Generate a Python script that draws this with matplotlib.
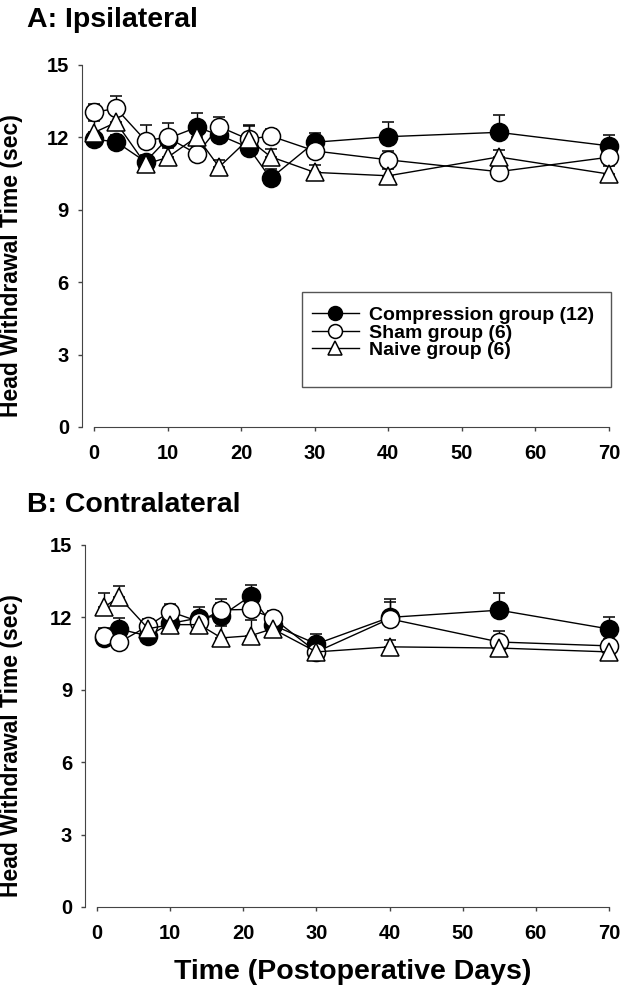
import numpy as np
import matplotlib
matplotlib.use("Agg")
import matplotlib.pyplot as plt
from matplotlib.patches import Rectangle
from matplotlib.lines import Line2D

plt.rcParams['font.family'] = ['Liberation Sans', 'DejaVu Sans']
plt.rcParams['font.weight'] = 'bold'
plt.rcParams['axes.labelweight'] = 'bold'

# days after surgery
days_a = [0, 3, 7, 10, 14, 17, 21, 24, 30, 40, 55, 70]
days_b = [1, 3, 7, 10, 14, 17, 21, 24, 30, 40, 55, 70]

# A: ipsilateral
comp_a = [11.92, 11.82, 10.99, 11.95, 12.42, 12.1, 11.58, 10.3, 11.8, 12.03, 12.21, 11.65]
comp_a_err = [0.3, 0.3, 0.3, 0.3, 0.6, 0.3, 0.3, 0.4, 0.4, 0.6, 0.7, 0.45]
sham_a = [13.04, 13.2, 11.87, 12.0, 11.31, 12.45, 11.92, 12.06, 11.44, 11.07, 10.58, 11.18]
sham_a_err = [0.35, 0.5, 0.65, 0.6, 0.3, 0.4, 0.6, 0.3, 0.3, 0.35, 0.2, 0.3]
naive_a = [12.2, 12.62, 10.89, 11.17, 12.03, 10.77, 11.93, 11.2, 10.55, 10.41, 11.19, 10.48]
naive_a_err = [0.5, 0.3, 0.3, 0.4, 0.3, 0.3, 0.55, 0.32, 0.3, 0.3, 0.3, 0.35]

# B: contralateral
comp_b = [11.15, 11.52, 11.23, 11.75, 11.98, 12.06, 12.89, 11.69, 10.9, 12.0, 12.3, 11.52]
comp_b_err = [0.3, 0.45, 0.3, 0.3, 0.45, 0.7, 0.45, 0.3, 0.4, 0.75, 0.7, 0.5]
sham_b = [11.25, 10.96, 11.65, 12.24, 11.82, 12.31, 12.33, 11.98, 10.57, 11.94, 10.98, 10.82]
sham_b_err = [0.3, 0.3, 0.3, 0.3, 0.3, 0.3, 0.3, 0.3, 0.3, 0.7, 0.45, 0.3]
naive_b = [12.43, 12.85, 11.53, 11.7, 11.7, 11.15, 11.24, 11.53, 10.57, 10.78, 10.73, 10.57]
naive_b_err = [0.6, 0.45, 0.3, 0.3, 0.3, 0.5, 0.65, 0.5, 0.3, 0.3, 0.3, 0.3]

labels = ['Compression group (12)', 'Sham group (6)', 'Naive group (6)']
yticks = [0, 3, 6, 9, 12, 15]
xticks = [0, 10, 20, 30, 40, 50, 60, 70]

fig = plt.figure(figsize=(6.24, 9.92), dpi=100)
W, H = 624, 992


def px_axes(left, top, right, bottom):
    return fig.add_axes([left / W, 1 - bottom / H, (right - left) / W, (bottom - top) / H])


ax_a = px_axes(94, 65, 609, 427)
ax_b = px_axes(97, 545, 609, 907)

styles = [dict(marker='o', mfc='black'),
          dict(marker='o', mfc='white'),
          dict(marker='^', mfc='white')]


def draw(ax, days, series, label_x):
    for (vals, err), st in zip(series, styles):
        ax.errorbar(days, vals, yerr=[np.zeros(len(err)), err], color='black', ms=13,
                    lw=1.0, mec='black', mew=1.1, capsize=4, capthick=1.0,
                    elinewidth=1.0, clip_on=False, **st)
    ax.set_xlim(0, 70)
    ax.set_ylim(0, 15)
    ax.set_xticks(xticks)
    ax.set_yticks(yticks)
    for s in ['top', 'right']:
        ax.spines[s].set_visible(False)
    ax.spines['left'].set_position(('outward', 9))
    ax.spines['left'].set_color('#444444')
    ax.spines['bottom'].set_color('#444444')
    ax.tick_params(axis='both', direction='out', length=3, width=1, colors='#444444',
                   labelcolor='black', labelsize=14.5)
    ax.tick_params(axis='x', pad=9)
    ax.tick_params(axis='y', pad=6)
    ax.set_ylabel('Head Withdrawal Time (sec)', fontsize=16.5)
    ax.yaxis.set_label_coords(label_x, 0.445)


draw(ax_a, days_a, [(comp_a, comp_a_err), (sham_a, sham_a_err), (naive_a, naive_a_err)], -0.138)
draw(ax_b, days_b, [(comp_b, comp_b_err), (sham_b, sham_b_err), (naive_b, naive_b_err)], -0.144)

ax_b.set_xlabel('Time (Postoperative Days)', fontsize=20.5, labelpad=12)

fig.text(27 / W, 1 - 27 / H, 'A: Ipsilateral', fontsize=20.5, fontweight='bold', va='baseline')
fig.text(27 / W, 1 - 512 / H, 'B: Contralateral', fontsize=20.5, fontweight='bold', va='baseline')

# legend box
ax_a.add_patch(Rectangle((0.404, 0.11), 0.6, 0.263, transform=ax_a.transAxes,
                         fill=False, edgecolor='#555555', lw=1.0, clip_on=False))
handles = [Line2D([], [], color='black', lw=1.0, mec='black', mew=1.1, ms=10, **st)
           for st in styles]
leg = ax_a.legend(handles=handles, labels=labels, loc='upper left',
                  bbox_to_anchor=(0.423, 0.333),
                  frameon=False, fontsize=14, borderpad=0, borderaxespad=0,
                  handlelength=2.4, handletextpad=0.55, labelspacing=0.0)

plt.savefig('out.png', dpi=100)
